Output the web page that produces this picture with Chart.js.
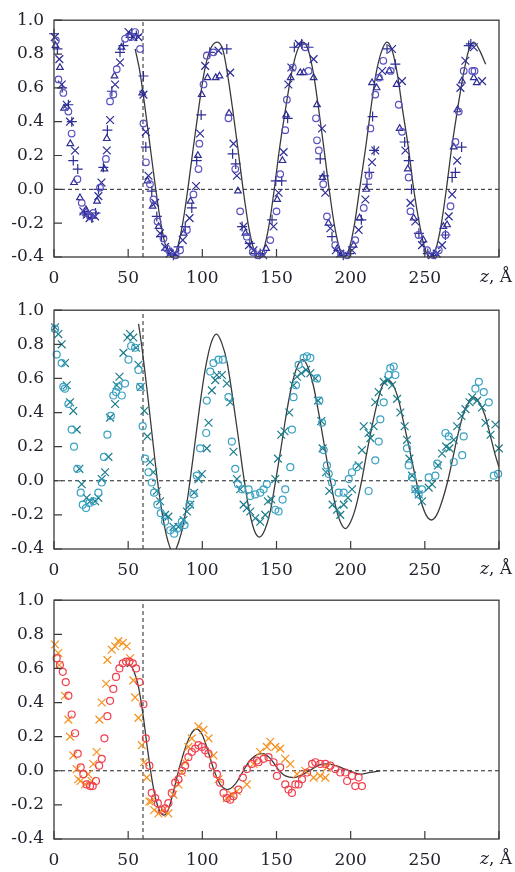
<!DOCTYPE html>
<html>
<head>
<meta charset="utf-8">
<script src="https://cdn.jsdelivr.net/npm/chart.js@4.4.0/dist/chart.umd.min.js"></script>
<style>
    body { margin: 0; background: #fff; }
    .panel { position: absolute; left: 0; width: 515px; }
    .panel canvas { display: block; }
</style>
</head>
<body>
<div class="panel" style="top:0"><canvas id="c1" width="515" height="290"></canvas></div>
<div class="panel" style="top:290px"><canvas id="c2" width="515" height="290"></canvas></div>
<div class="panel" style="top:580px"><canvas id="c3" width="515" height="292"></canvas></div>
<script>
// Axis ranges and ticks
const X_TICKS = [0, 50, 100, 150, 200, 250, 300];
const Y_TICKS = [-0.4, -0.2, 0.0, 0.2, 0.4, 0.6, 0.8, 1.0];
const X_NAME = ['z', ', Å'];
const Z_CUT = 60; // vertical dashed marker

// Panel 1: four measured series + model curve  ([z, value])
const p1Circles = [[1.3,0.88],[3,0.65],[6.3,0.57],[9.7,0.46],[11.9,0.33],[15.8,0.06],[18.7,-0.08],[21,-0.14],[24.3,-0.16],[26.5,-0.14],[31,0.01],[35,0.18],[37.8,0.52],[40,0.56],[42.3,0.71],[47.9,0.89],[52,0.90],[54.7,0.93],[58,0.83],[60.3,0.39],[62,0.16],[64.7,0.03],[67,-0.06],[69.8,-0.19],[73.8,-0.29],[76,-0.35],[78.3,-0.37],[82,-0.39],[85,-0.36],[89.6,-0.24],[94,-0.03],[97.4,0.12],[98,0.27],[100.8,0.62],[103,0.79],[107.5,0.81],[117.6,0.42],[122.2,0.12],[125.5,-0.13],[130,-0.28],[134,-0.37],[137.5,-0.39],[140,-0.38],[145.8,-0.30],[150,-0.13],[152.5,0.09],[155.9,0.35],[157,0.53],[161,0.72],[169.4,0.84],[171.6,0.70],[176.6,0.42],[177.3,0.29],[178.5,0.23],[181.5,0.03],[184,-0.16],[189.6,-0.33],[193.5,-0.38],[197.6,-0.39],[203.1,-0.30],[208.8,-0.11],[212.1,0.08],[213.3,0.36],[216.6,0.56],[219,0.66],[222,0.76],[227,0.70],[232.4,0.50],[234.6,0.34],[239.1,0.07],[240.3,-0.13],[245.8,-0.27],[251.5,-0.36],[256,-0.39],[259.4,-0.36],[264,-0.27],[267.3,-0.10],[270.6,0.28],[272.9,0.46],[276.2,0.70],[282,0.70],[283.5,0.70]];
const p1Xs = [[0.5,0.90],[3.6,0.77],[5.2,0.62],[8.6,0.50],[10.8,0.40],[14.2,0.23],[19.8,-0.13],[22,-0.15],[24,-0.17],[27.7,-0.16],[29.9,-0.04],[32,0.04],[35.6,0.23],[37.8,0.41],[41.2,0.62],[44.5,0.75],[50.2,0.93],[53.5,0.90],[56.9,0.90],[60.3,0.56],[61.9,0.34],[63.7,0.08],[68.2,-0.08],[71.5,-0.26],[74.9,-0.34],[78,-0.38],[81.7,-0.38],[86.8,-0.30],[91.4,-0.17],[95.8,0.02],[98.5,0.33],[101.9,0.73],[110.9,0.82],[118.8,0.69],[121,0.27],[123.3,0.08],[127.8,-0.22],[131.5,-0.33],[134.5,-0.36],[141,-0.39],[148,-0.22],[151.4,-0.02],[154.8,0.22],[158,0.62],[160,0.72],[164.9,0.86],[175,0.77],[180.7,0.36],[182.9,-0.02],[186.3,-0.23],[190,-0.36],[193,-0.38],[200.9,-0.36],[205.4,-0.24],[209.9,-0.06],[214.4,0.16],[216.6,0.23],[221.2,0.70],[227.9,0.83],[234.6,0.64],[236.9,0.23],[240.3,-0.08],[243.6,-0.19],[248.1,-0.33],[254.9,-0.39],[258,-0.38],[261.6,-0.33],[266.1,-0.16],[268.4,-0.03],[271.8,0.17],[274,0.60],[277.3,0.76],[283,0.84],[288.6,0.64]];
const p1Plus = [[0,0.92],[2.3,0.83],[5.5,0.60],[9.7,0.50],[12,0.40],[13,0.17],[16,0.12],[20.5,-0.14],[23,-0.15],[25.5,-0.17],[28,-0.14],[30,0.0],[33.3,0.13],[36,0.35],[39,0.58],[44.5,0.81],[46.8,0.85],[52.4,0.92],[55.5,0.91],[60.3,0.67],[61.9,0.25],[65.9,-0.01],[69.3,-0.16],[72.5,-0.28],[76.5,-0.36],[80.5,-0.39],[84,-0.34],[88.5,-0.22],[92.9,-0.11],[96.2,0.17],[99.2,0.44],[105,0.81],[116.5,0.83],[120.4,0.21],[122.5,0.15],[126.8,-0.22],[132,-0.32],[136,-0.38],[139,-0.38],[147,-0.18],[149.5,0.05],[153.5,0.05],[157.5,0.42],[162,0.84],[167,0.86],[171.6,0.84],[179.5,0.18],[182,0.08],[187.4,-0.28],[195,-0.39],[199,-0.38],[207.2,-0.18],[211,0.03],[212.5,0.10],[214.8,0.43],[215.8,0.23],[224.5,0.83],[230.1,0.74],[236.4,0.28],[239.1,0.17],[241,0.0],[246,-0.26],[252,-0.38],[263.9,-0.27],[268.4,0.07],[270.6,0.10],[274.8,0.25],[279.6,0.85],[281,0.86]];
const p1Tri = [[1,0.85],[4,0.72],[6.8,0.48],[11,0.27],[13.5,0.04],[17.5,-0.05],[21.5,-0.12],[29,-0.07],[34,0.12],[35.6,0.30],[40.8,0.67],[45.5,0.84],[51,0.91],[59.5,0.57],[63,0.05],[66.5,-0.10],[70.5,-0.22],[79,-0.37],[87.5,-0.26],[92,-0.07],[97,0.20],[99.6,0.56],[103.5,0.66],[109,0.66],[111.6,0.67],[118,0.45],[124,-0.01],[129,-0.26],[143,-0.35],[150.5,-0.06],[154,0.17],[156.5,0.44],[159.5,0.66],[166,0.69],[168.3,0.69],[175,0.66],[177.3,0.50],[181,0.07],[185,-0.20],[191,-0.35],[202,-0.33],[206,-0.17],[210.5,0.0],[214.4,0.63],[217.5,0.60],[219.5,0.66],[226,0.70],[231,0.62],[233,0.36],[238.5,0.12],[242.5,-0.17],[249,-0.30],[257,-0.38],[262.5,-0.22],[265,-0.21],[269.5,0.25],[272,0.47],[275,0.64],[283,0.66],[285,0.63]];
const p1Curve = [[54.7,0.83],[57.8,0.70],[61.4,0.48],[65,0.24],[68.6,0.0],[72.2,-0.21],[75.8,-0.35],[79.4,-0.40],[83,-0.35],[86.6,-0.21],[90.2,0.0],[93.8,0.24],[97.4,0.47],[101,0.68],[105,0.82],[110,0.87],[114,0.82],[117,0.68],[120.5,0.47],[124,0.24],[127.5,0.0],[131,-0.21],[134.5,-0.35],[137.7,-0.40],[141.5,-0.35],[145,-0.21],[148.5,0.0],[152,0.24],[156,0.47],[160,0.68],[164,0.82],[168,0.87],[171.5,0.82],[175,0.68],[178.5,0.47],[182,0.24],[185.5,0.0],[189,-0.21],[192.5,-0.35],[195.5,-0.40],[199,-0.35],[202.5,-0.21],[206,0.0],[210,0.24],[213.5,0.47],[217,0.68],[221,0.82],[224.5,0.87],[228,0.82],[231.5,0.68],[235,0.47],[239,0.24],[242.5,0.0],[246.5,-0.21],[250,-0.35],[253.8,-0.40],[257.5,-0.35],[261,-0.21],[264.5,0.0],[268,0.24],[272,0.47],[276,0.68],[279.5,0.82],[283,0.87],[287,0.82],[291,0.74]];

// Panel 2: two series + damped model curve
const p2Circles = [[0.7,0.89],[1.8,0.74],[5.2,0.69],[6.3,0.55],[7.4,0.54],[9.7,0.45],[11.9,0.30],[13.5,0.20],[15.7,0.07],[18,-0.07],[19.4,-0.14],[21.6,-0.16],[23.8,-0.13],[26.5,-0.12],[29.9,-0.07],[32.2,-0.01],[33.7,0.14],[36,0.27],[38.3,0.38],[40,0.50],[41.8,0.52],[43.4,0.55],[45.7,0.50],[47.9,0.57],[50.2,0.71],[52,0.79],[54.7,0.78],[56.9,0.65],[58,0.55],[59.8,0.32],[61.4,0.13],[63.7,0.05],[65.9,-0.01],[67.5,-0.07],[69.7,-0.14],[72,-0.19],[74.9,-0.24],[78.3,-0.29],[81,-0.31],[83.2,-0.28],[86.2,-0.24],[88,-0.26],[91.3,-0.14],[94,-0.08],[96.3,0.03],[98.5,0.19],[102.6,0.28],[103,0.47],[105.3,0.64],[107.5,0.69],[110.9,0.71],[113.8,0.71],[117.6,0.49],[119.9,0.23],[122.2,0.07],[124,-0.02],[126.7,-0.05],[131.2,-0.05],[132.3,-0.09],[135.7,-0.08],[139,-0.07],[141.3,-0.05],[143.5,-0.02],[149.2,-0.17],[151.4,-0.18],[154.1,-0.11],[155.9,-0.05],[159.3,0.08],[160.4,0.30],[161.5,0.49],[163.1,0.56],[164.9,0.68],[168.3,0.72],[170.5,0.73],[172.8,0.72],[177.3,0.60],[178.9,0.47],[180.7,0.34],[181.8,0.18],[184,0.09],[185.2,0.04],[187.4,-0.01],[191.9,-0.07],[195.3,-0.07],[198.7,0.01],[200.9,0.05],[204,0.08],[212.1,-0.06],[216.6,0.12],[218.9,0.23],[220,0.36],[222.3,0.46],[225.6,0.62],[226.7,0.66],[229,0.67],[230.1,0.62],[238,0.19],[239.1,0.09],[241.4,0.02],[243.6,-0.05],[245.8,-0.08],[248.1,-0.05],[252.6,0.02],[257.1,0.03],[258.3,0.10],[263.9,0.28],[266.1,0.26],[269.5,0.11],[275.2,0.15],[276.2,0.26],[284.1,0.54],[286.4,0.58],[289.7,0.52],[293.1,0.46],[296.5,0.03],[299.4,0.04]];
const p2Xs = [[0.7,0.90],[2.9,0.86],[5.2,0.80],[7.4,0.69],[8.6,0.56],[10.8,0.46],[13,0.41],[15.3,0.30],[17.1,0.07],[18.7,-0.02],[22,-0.10],[24.3,-0.12],[27.7,-0.12],[29.9,-0.10],[32.2,0.01],[34.4,0.05],[36.7,0.14],[37.8,0.37],[41.2,0.45],[42.3,0.56],[44.1,0.61],[46.8,0.75],[49.5,0.84],[51.3,0.86],[53.5,0.84],[55.3,0.78],[56.9,0.68],[58.5,0.55],[60.9,0.41],[63,0.26],[64.8,0.11],[67,0.05],[69.3,-0.06],[71.5,-0.12],[74.9,-0.20],[77.1,-0.21],[80.5,-0.27],[83.9,-0.27],[87.3,-0.23],[89.6,-0.18],[91.8,-0.14],[94.5,-0.07],[97.4,0.01],[99.7,0.04],[103,0.19],[104.2,0.34],[106.4,0.53],[108.7,0.59],[109.8,0.62],[113.2,0.62],[116.5,0.57],[118.8,0.46],[121,0.17],[123.3,0.01],[125.5,-0.05],[127.8,-0.14],[130,-0.16],[132.3,-0.18],[135.7,-0.22],[139,-0.24],[142.4,-0.20],[144.2,-0.12],[146.5,-0.11],[149.2,0.01],[151,0.13],[153.2,0.27],[155.4,0.29],[158.6,0.40],[161.5,0.56],[163.8,0.61],[166.7,0.63],[169.9,0.65],[172.8,0.63],[176.2,0.60],[178,0.47],[180.2,0.35],[181.1,0.19],[183.4,0.05],[185.6,-0.06],[187.8,-0.14],[190.8,-0.17],[193,-0.20],[195.3,-0.14],[198.2,-0.10],[200.9,-0.05],[205.4,0.09],[207.6,0.18],[208.8,0.32],[212.1,0.28],[213.3,0.25],[215.5,0.32],[216.6,0.46],[218.9,0.52],[222.3,0.58],[225.2,0.59],[227.9,0.56],[231.3,0.48],[233.5,0.40],[236.4,0.32],[238,0.24],[239.6,0.13],[241.4,0.03],[243.6,-0.05],[245.9,-0.08],[248.1,-0.12],[252.6,-0.04],[254.9,-0.02],[258.9,0.09],[261.6,0.16],[264.4,0.20],[266.6,0.19],[269.5,0.24],[271.8,0.32],[274.7,0.38],[277.4,0.42],[280.1,0.46],[281.9,0.49],[285.3,0.47],[288.6,0.43],[290.9,0.34],[294.3,0.27],[297.6,0.33],[299.9,0.19]];
const p2Curve = [[57,0.92],[59,0.80],[62.5,0.55],[66,0.28],[69.6,0.01],[73.3,-0.21],[77,-0.36],[80.5,-0.42],[84,-0.36],[87.8,-0.23],[91.4,-0.02],[95,0.22],[98.6,0.46],[102.3,0.67],[106,0.81],[109.5,0.86],[113,0.81],[116.8,0.69],[120.4,0.49],[124,0.27],[127.6,0.04],[131.3,-0.16],[135,-0.29],[138.5,-0.33],[142,-0.29],[145.8,-0.18],[149.4,0.0],[153,0.19],[156.6,0.39],[160.3,0.56],[164,0.67],[167.5,0.71],[171,0.67],[174.8,0.56],[178.4,0.40],[182,0.22],[185.6,0.04],[189.3,-0.13],[193,-0.24],[196.5,-0.28],[200,-0.24],[203.6,-0.15],[207.2,-0.01],[210.8,0.16],[214.4,0.32],[218,0.46],[221.5,0.56],[225,0.59],[228.7,0.56],[232.4,0.47],[236,0.33],[239.8,0.18],[243.4,0.03],[247.1,-0.11],[250.8,-0.20],[254.5,-0.23],[258,-0.20],[261.6,-0.12],[265.2,-0.01],[268.8,0.13],[272.3,0.27],[275.9,0.39],[279.5,0.46],[283,0.49],[286.6,0.46],[290.3,0.39],[294,0.27],[297.5,0.15],[300,0.08]];

// Panel 3: two series + strongly damped model curve
const p3Circles = [[1.8,0.66],[4,0.62],[5.9,0.58],[7.9,0.52],[9.7,0.44],[11.9,0.33],[14.2,0.22],[16,0.10],[18,0.02],[19.8,-0.02],[22,-0.08],[24.3,-0.09],[26.1,-0.09],[28.3,-0.06],[30.4,0.03],[32.2,0.07],[34,0.19],[36,0.32],[37.8,0.41],[40,0.48],[41.8,0.55],[44.1,0.60],[46.4,0.63],[48.6,0.64],[50.8,0.64],[53.1,0.63],[55.3,0.60],[57.6,0.52],[60.3,0.39],[61.9,0.19],[64.3,0.03],[65.9,-0.13],[68.2,-0.16],[70,-0.19],[72.7,-0.23],[74.9,-0.22],[77.1,-0.19],[79.4,-0.13],[81.7,-0.07],[83.9,-0.05],[86.2,0.0],[88.4,0.03],[90.6,0.08],[92.9,0.11],[95.2,0.13],[97.4,0.15],[99.7,0.14],[101.9,0.12],[104.1,0.10],[107.1,0.03],[109.8,-0.02],[112,-0.07],[114.3,-0.13],[116.5,-0.16],[118.8,-0.17],[121,-0.15],[124.4,-0.11],[127.3,-0.04],[130,0.01],[133.4,0.04],[136.8,0.06],[137.9,0.05],[141.3,0.07],[144.6,0.08],[148,0.05],[150.3,-0.03],[152.5,0.02],[155.9,-0.08],[158.1,-0.11],[160.4,-0.13],[162.7,-0.08],[164.9,-0.08],[167.2,-0.05],[170.6,-0.01],[174,0.04],[176.2,0.05],[179.5,0.04],[182.9,0.04],[186.3,0.03],[189.6,0.01],[193,-0.01],[196.4,-0.01],[197.6,-0.06],[200.9,-0.03],[203.1,-0.09],[205.4,-0.04],[207.6,-0.09]];
const p3Xs = [[0.7,0.74],[2.9,0.69],[3.5,0.62],[7.4,0.44],[9.7,0.30],[10.8,0.20],[13,0.09],[15.3,0.01],[16.4,-0.05],[17.9,-0.06],[20.9,-0.08],[23.1,-0.02],[25.4,-0.06],[26.5,0.04],[28.8,0.11],[30.6,0.30],[32.2,0.40],[35.1,0.51],[36,0.65],[38.9,0.71],[41.2,0.73],[43.4,0.76],[46.4,0.75],[49,0.73],[51.3,0.66],[53.5,0.53],[54.7,0.43],[56.9,0.31],[59.2,0.15],[60.7,0.05],[62.6,-0.04],[64.3,-0.18],[65.6,-0.18],[67.5,-0.23],[70.4,-0.25],[73.8,-0.23],[77.1,-0.25],[80.5,-0.14],[83.9,-0.08],[86.2,-0.01],[88.4,0.05],[90.6,0.14],[92.9,0.19],[97.4,0.26],[100.8,0.24],[104.2,0.19],[107.5,0.09],[110.9,-0.05],[116.5,-0.16],[119.9,-0.14],[123.3,-0.12],[130,-0.08],[134.5,0.04],[139,0.11],[143.5,0.14],[145.8,0.17],[149.2,0.14],[152.5,0.13],[155.9,0.07],[159.3,0.04],[163.8,-0.02],[169.4,0.0],[175,-0.04],[179.5,-0.03],[182.9,-0.04],[184,0.02]];
const p3Curve = [[49,0.61],[51,0.62],[54,0.58],[57,0.49],[60,0.33],[63,0.13],[66,-0.05],[69,-0.18],[71.5,-0.24],[74,-0.26],[77,-0.23],[80,-0.14],[84,0.0],[88,0.12],[92,0.21],[96,0.245],[100,0.21],[104,0.11],[108,0.0],[112,-0.08],[117,-0.11],[122,-0.08],[127,-0.01],[132,0.06],[137,0.095],[141,0.10],[146,0.07],[151,0.01],[156,-0.03],[162,-0.04],[168,-0.02],[174,0.01],[179,0.035],[184,0.04],[190,0.03],[196,0.01],[202,-0.01],[207,-0.02],[213,-0.01],[220,0.0]];

const TEXT = '#23232f';
const FONT = "'DejaVu Serif', serif";
const FONT_SIZE = 17;

const pts = arr => arr.map(([x, y]) => ({ x, y }));

function markers(arr, style, color, r) {
    return {
        data: pts(arr),
        pointStyle: style,
        pointRadius: r,
        pointBorderColor: color,
        pointBackgroundColor: 'rgba(0,0,0,0)',
        pointBorderWidth: 1.2,
        showLine: false,
        clip: false,
        order: 1
    };
}

function curve(arr) {
    return {
        data: pts(arr),
        showLine: true,
        borderColor: '#3a3a3a',
        borderWidth: 1.3,
        pointRadius: 0,
        cubicInterpolationMode: 'monotone',
        order: 2
    };
}

function guides() {
    const dash = {
        showLine: true,
        borderColor: '#222',
        borderWidth: 1,
        borderDash: [4, 3],
        pointRadius: 0,
        order: 3
    };
    return [
        { ...dash, data: [{ x: X_TICKS[0], y: 0 }, { x: X_TICKS[X_TICKS.length - 1], y: 0 }] },
        { ...dash, data: [{ x: Z_CUT, y: Y_TICKS[0] }, { x: Z_CUT, y: Y_TICKS[Y_TICKS.length - 1] }] }
    ];
}

// Frame, inward ticks and the "z, Å" axis name
const frameAndTicks = {
    id: 'frameAndTicks',
    afterDatasetsDraw(chart) {
        const { ctx, chartArea: a, scales: { x, y } } = chart;
        ctx.save();
        ctx.strokeStyle = '#3a3a3a';
        ctx.lineWidth = 1.3;
        ctx.strokeRect(a.left, a.top, a.right - a.left, a.bottom - a.top);
        ctx.lineWidth = 1.2;
        ctx.beginPath();
        Y_TICKS.forEach(v => {
            const py = y.getPixelForValue(v);
            ctx.moveTo(a.left, py);
            ctx.lineTo(a.left + 8, py);
        });
        X_TICKS.forEach(v => {
            const px = x.getPixelForValue(v);
            ctx.moveTo(px, a.bottom);
            ctx.lineTo(px, a.bottom - 8);
        });
        ctx.stroke();

        ctx.fillStyle = TEXT;
        ctx.textBaseline = 'middle';
        ctx.textAlign = 'left';
        ctx.font = 'italic ' + FONT_SIZE + 'px ' + FONT;
        const w1 = ctx.measureText(X_NAME[0]).width;
        ctx.font = FONT_SIZE + 'px ' + FONT;
        const w2 = ctx.measureText(X_NAME[1]).width;
        const x0 = 512 - w1 - w2;
        const ty = a.bottom + 21;
        ctx.font = 'italic ' + FONT_SIZE + 'px ' + FONT;
        ctx.fillText(X_NAME[0], x0, ty);
        ctx.font = FONT_SIZE + 'px ' + FONT;
        ctx.fillText(X_NAME[1], x0 + w1, ty);
        ctx.restore();
    }
};

function makePanel(id, datasets, padTop, axisH) {
    const ctx = document.getElementById(id).getContext('2d');
    return new Chart(ctx, {
        type: 'scatter',
        data: { datasets: [...datasets, ...guides()] },
        options: {
            responsive: false,
            animation: false,
            events: [],
            layout: { padding: { top: padTop, right: 16, left: 0, bottom: 0 } },
            plugins: { legend: { display: false }, tooltip: { enabled: false } },
            scales: {
                x: {
                    type: 'linear',
                    min: X_TICKS[0],
                    max: X_TICKS[X_TICKS.length - 1],
                    afterBuildTicks: s => { s.ticks = X_TICKS.map(v => ({ value: v })); },
                    ticks: {
                        color: TEXT,
                        font: { family: FONT, size: FONT_SIZE },
                        padding: 11,
                        maxRotation: 0,
                        autoSkip: false,
                        callback: v => v === X_TICKS[X_TICKS.length - 1] ? '' : String(v)
                    },
                    grid: { display: false, drawTicks: false },
                    border: { display: false },
                    afterFit: s => { s.height = axisH; }
                },
                y: {
                    min: Y_TICKS[0],
                    max: Y_TICKS[Y_TICKS.length - 1],
                    afterBuildTicks: s => { s.ticks = Y_TICKS.map(v => ({ value: v })); },
                    ticks: {
                        color: TEXT,
                        font: { family: FONT, size: FONT_SIZE },
                        padding: 10,
                        autoSkip: false,
                        callback: v => v.toFixed(1)
                    },
                    grid: { display: false, drawTicks: false },
                    border: { display: false },
                    afterFit: s => { s.width = 54; }
                }
            }
        },
        plugins: [frameAndTicks]
    });
}

const NAVY = '#2d2d95';
makePanel('c1', [
    markers(p1Circles, 'circle', '#5a52c0', 3.3),
    markers(p1Xs, 'crossRot', NAVY, 5.5),
    markers(p1Plus, 'cross', NAVY, 5),
    markers(p1Tri, 'triangle', NAVY, 3.8),
    curve(p1Curve)
], 12, 33);

makePanel('c2', [
    markers(p2Circles, 'circle', '#3aa2c2', 3.5),
    markers(p2Xs, 'crossRot', '#1b7d8c', 5.5),
    { ...curve(p2Curve), clip: 0 }
], 13, 31);

makePanel('c3', [
    markers(p3Circles, 'circle', '#f0404f', 3.5),
    markers(p3Xs, 'crossRot', '#f5921f', 5.5),
    curve(p3Curve)
], 14, 33);
</script>
</body>
</html>
